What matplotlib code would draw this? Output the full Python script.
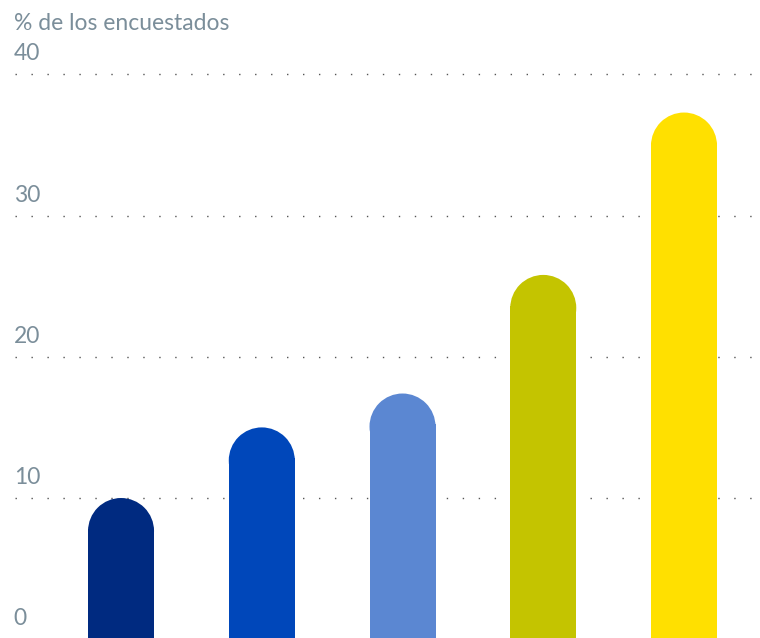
import matplotlib
matplotlib.use("Agg")
import matplotlib.pyplot as plt
import matplotlib.transforms as mtransforms
from matplotlib.patches import Ellipse

# data
categories = ["A", "B", "C", "D", "E"]
values = [10.0, 15.0, 17.4, 25.8, 37.3]
colors = ["#002A80", "#0047BA", "#5B87D2", "#C4C400", "#FFE000"]
yticks = [0, 10, 20, 30, 40]
ylabel = "% de los encuestados"

plt.rcParams['font.family'] = ['Lato', 'DejaVu Sans']
text_color = "#7B8E9A"

fig = plt.figure(figsize=(7.6, 6.38), dpi=100)
ax = fig.add_axes([0, -1.2 / 638, 1, 639.2 / 638])
ax.set_xlim(-0.86, 4.54)
ax.set_ylim(0, 45.27)
ax.axis("off")

# dotted gridlines
for t in yticks[1:]:
    ax.plot([0.02, 0.995], [t, t], transform=ax.get_yaxis_transform(),
            color="#555555", linewidth=1.0, linestyle=(0, (1, 10.5)), zorder=1)

# tick labels sitting above the gridlines
for t in yticks:
    tr = mtransforms.offset_copy(ax.get_yaxis_transform(), fig=fig, x=0, y=10, units="dots")
    ax.text(0.018, t, str(t), transform=tr, ha="left", va="bottom",
            fontsize=16.5, color=text_color)

# rounded bars
width = 0.469
fig.canvas.draw()
px_x = ax.transData.transform((1, 0))[0] - ax.transData.transform((0, 0))[0]
px_y = ax.transData.transform((0, 1))[1] - ax.transData.transform((0, 0))[1]
ry = (width * px_x / 2) / px_y
for i, (v, c) in enumerate(zip(values, colors)):
    ax.bar(i, v - ry + 0.15, width=width, color=c, linewidth=0, zorder=2)
    ax.add_patch(Ellipse((i, v - ry), width, 2 * ry, color=c, linewidth=0, zorder=2))

fig.text(14 / 760, 1 - 30 / 638, ylabel, ha="left", va="baseline",
         fontsize=16.5, color=text_color)

fig.savefig("out.png", dpi=100)
